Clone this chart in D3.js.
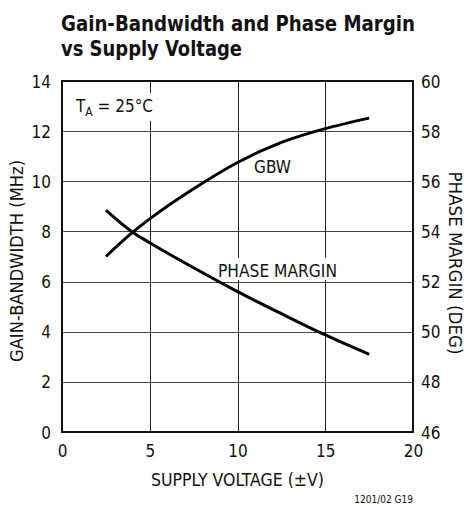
<!DOCTYPE html>
<html>
<head>
<meta charset="utf-8">
<script src="https://cdn.jsdelivr.net/npm/d3@7"></script>
<style>
  body { margin: 0; background: #fff; }
  svg text { font-family: "Liberation Sans Narrow", "DejaVu Sans Condensed", sans-serif; fill: #111; }
</style>
</head>
<body>
<svg id="chart" width="464" height="506"></svg>
<script>
// supply voltage (±V)
var voltage = [2.5, 4, 5, 7.5, 10, 12.5, 15, 17.5];
// gain-bandwidth (MHz), left axis
var gbw = [7.0, 7.95, 8.5, 9.7, 10.75, 11.55, 12.1, 12.52];
// phase margin (deg), right axis
var phaseMargin = [54.85, 53.98, 53.55, 52.55, 51.6, 50.72, 49.87, 49.1];

var xTicks = [0, 5, 10, 15, 20];
var leftTicks = [0, 2, 4, 6, 8, 10, 12, 14];
var rightTicks = [46, 48, 50, 52, 54, 56, 58, 60];

var svg = d3.select("#chart");
var margin = {left: 62, right: 51, top: 81, bottom: 74};
var w = 464 - margin.left - margin.right,
    h = 506 - margin.top - margin.bottom;

var x = d3.scaleLinear().domain([0, 20]).range([0, w]);
var yL = d3.scaleLinear().domain([0, 14]).range([h, 0]);
var yR = d3.scaleLinear().domain([46, 60]).range([h, 0]);

// title
var title = svg.append("g").attr("font-weight", "bold").attr("font-size", 22);
title.append("text").attr("x", 61).attr("y", 31)
    .attr("textLength", 354).attr("lengthAdjust", "spacingAndGlyphs")
    .text("Gain-Bandwidth and Phase Margin");
title.append("text").attr("x", 61).attr("y", 56)
    .attr("textLength", 181).attr("lengthAdjust", "spacingAndGlyphs")
    .text("vs Supply Voltage");

var g = svg.append("g").attr("transform", "translate(" + margin.left + "," + margin.top + ")");

// grid
g.selectAll(".hgrid").data(leftTicks.slice(1, -1)).enter().append("line")
    .attr("x1", 0).attr("x2", w)
    .attr("y1", function(d) { return Math.round(yL(d)) + 0.5; })
    .attr("y2", function(d) { return Math.round(yL(d)) + 0.5; })
    .attr("stroke", "#444").attr("stroke-width", 1);
g.selectAll(".vgrid").data(xTicks.slice(1, -1)).enter().append("line")
    .attr("y1", 0).attr("y2", h)
    .attr("x1", function(d) { return Math.round(x(d)) + 0.5; })
    .attr("x2", function(d) { return Math.round(x(d)) + 0.5; })
    .attr("stroke", "#222").attr("stroke-width", 1);

// labels inside the plot, white box knocks out the grid behind
function boxLabel(tx, ty, bx, by, bw, bh) {
    g.append("rect").attr("x", bx).attr("y", by).attr("width", bw).attr("height", bh).attr("fill", "#fff");
    return g.append("text").attr("x", tx).attr("y", ty).attr("font-size", 17);
}
var ta = boxLabel(14, 31, 8, 12, 82, 28);
ta.append("tspan").text("T");
ta.append("tspan").attr("font-size", 12).attr("dy", 4).text("A");
ta.append("tspan").attr("dy", -4).text(" = 25°C");

boxLabel(156, 195.5, 154, 177, 124, 22)
    .attr("textLength", 119).attr("lengthAdjust", "spacingAndGlyphs")
    .text("PHASE MARGIN");
g.append("text").attr("x", 192).attr("y", 92).attr("font-size", 17)
    .attr("textLength", 37).attr("lengthAdjust", "spacingAndGlyphs")
    .text("GBW");

// curves
var lineL = d3.line().curve(d3.curveMonotoneX)
    .x(function(d, i) { return x(voltage[i]); })
    .y(function(d) { return yL(d); });
var lineR = d3.line().curve(d3.curveMonotoneX)
    .x(function(d, i) { return x(voltage[i]); })
    .y(function(d) { return yR(d); });
g.append("path").datum(gbw).attr("d", lineL)
    .attr("fill", "none").attr("stroke", "#000").attr("stroke-width", 3);
g.append("path").datum(phaseMargin).attr("d", lineR)
    .attr("fill", "none").attr("stroke", "#000").attr("stroke-width", 3);

// frame
g.append("rect").attr("x", 0).attr("y", 0).attr("width", w).attr("height", h)
    .attr("fill", "none").attr("stroke", "#111").attr("stroke-width", 2);

// axes
var axL = g.append("g").call(d3.axisLeft(yL).tickValues(leftTicks).tickSize(0).tickPadding(11));
var axR = g.append("g").attr("transform", "translate(" + w + ",0)")
    .call(d3.axisRight(yR).tickValues(rightTicks).tickSize(0).tickPadding(8));
var axB = g.append("g").attr("transform", "translate(0," + h + ")")
    .call(d3.axisBottom(x).tickValues(xTicks).tickSize(0).tickPadding(13));
[axL, axR, axB].forEach(function(a) {
    a.select(".domain").remove();
    a.selectAll("text").attr("font-size", 17).attr("font-family", null).attr("fill", "#111");
});
axL.selectAll("text").attr("dy", "0.36em");
axR.selectAll("text").attr("dy", "0.36em");
axB.selectAll("text").attr("dy", "0.71em");

// axis titles
svg.append("text").attr("x", x(10) + margin.left).attr("y", 486)
    .attr("text-anchor", "middle").attr("font-size", 17)
    .attr("textLength", 173).attr("lengthAdjust", "spacingAndGlyphs")
    .text("SUPPLY VOLTAGE (±V)");
svg.append("text").attr("transform", "translate(23,261) rotate(-90)")
    .attr("text-anchor", "middle").attr("font-size", 17)
    .attr("textLength", 202).attr("lengthAdjust", "spacingAndGlyphs")
    .text("GAIN-BANDWIDTH (MHz)");
svg.append("text").attr("transform", "translate(449,263) rotate(90)")
    .attr("text-anchor", "middle").attr("font-size", 17)
    .attr("textLength", 183).attr("lengthAdjust", "spacingAndGlyphs")
    .text("PHASE MARGIN (DEG)");

svg.append("text").attr("x", 413).attr("y", 503).attr("text-anchor", "end")
    .attr("font-size", 10).attr("font-family", "Liberation Sans, sans-serif")
    .text("1201/02 G19");
</script>
</body>
</html>
